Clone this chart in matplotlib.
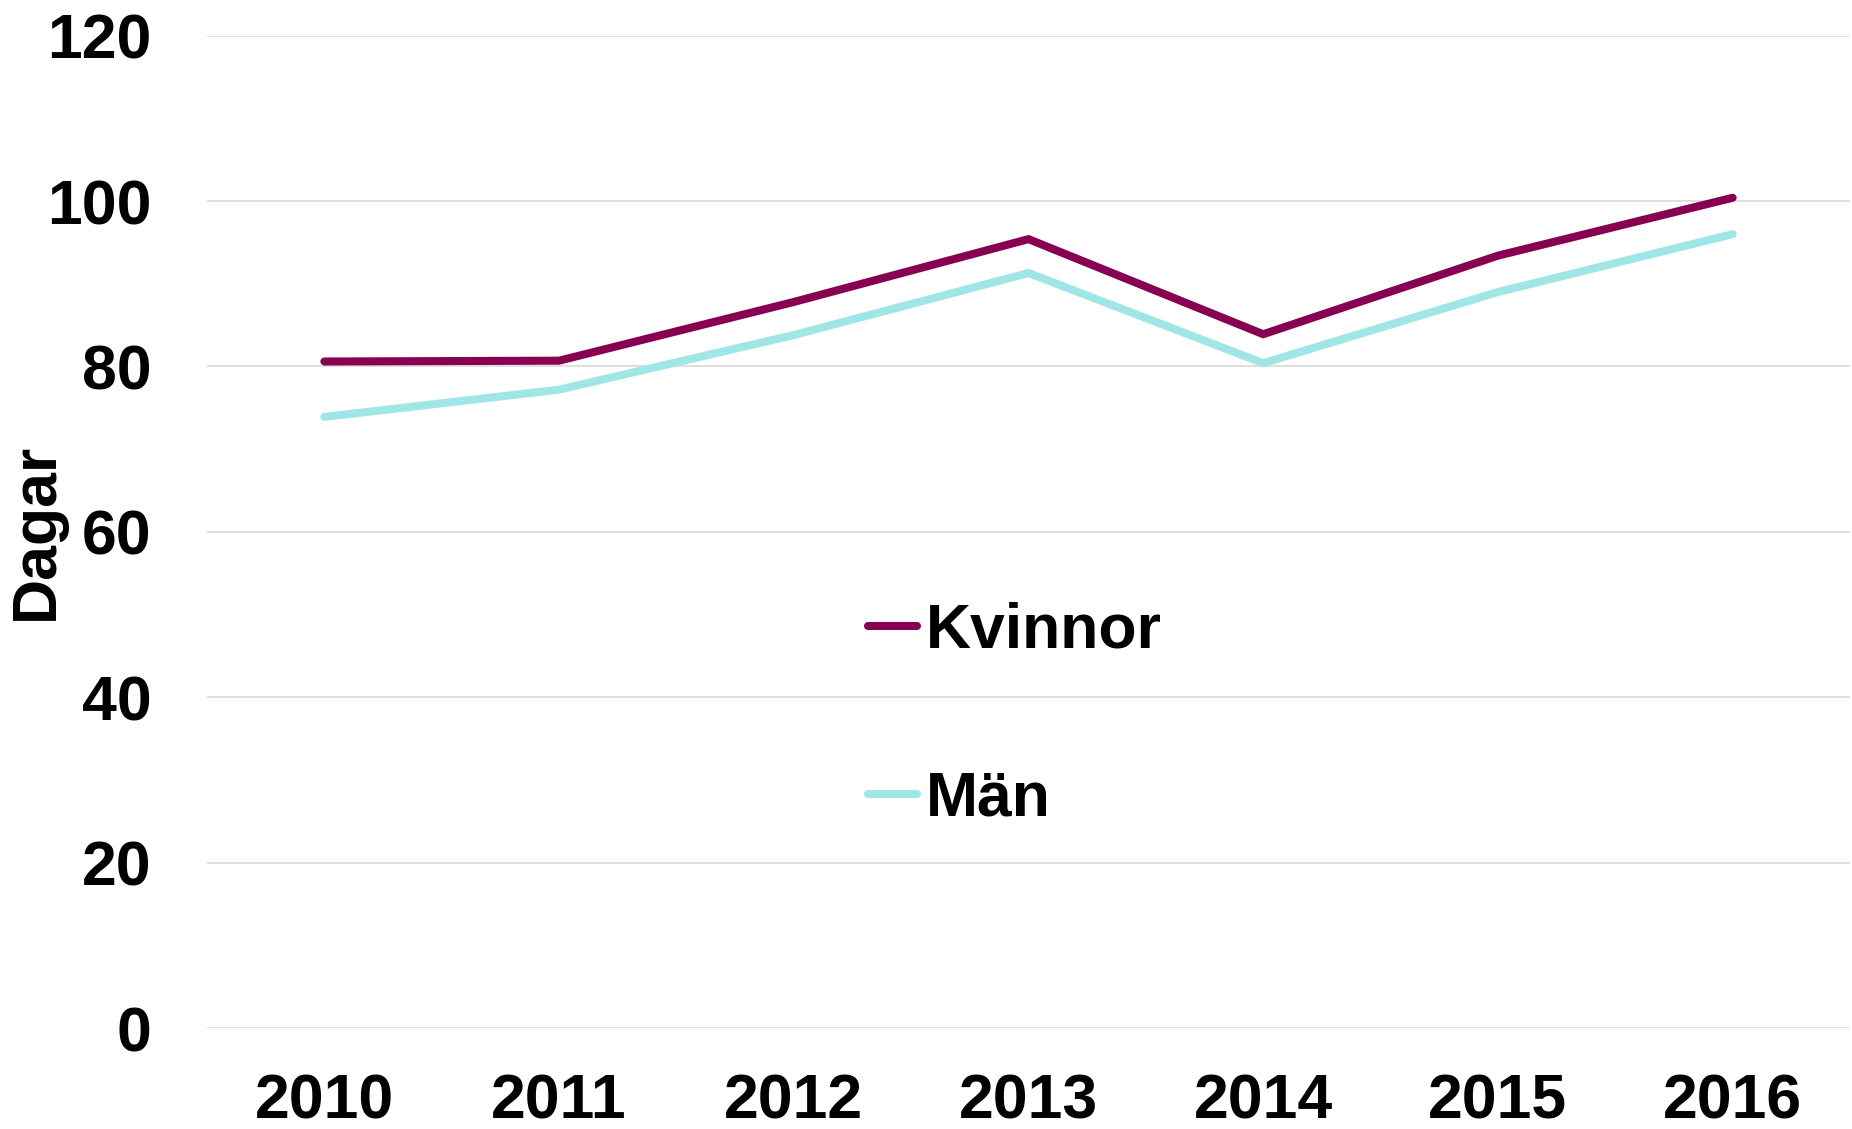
import matplotlib
matplotlib.use('Agg')
import matplotlib.pyplot as plt

# data
years = ['2010', '2011', '2012', '2013', '2014', '2015', '2016']
kvinnor = [80.6, 80.7, 87.8, 95.4, 83.9, 93.4, 100.4]
man = [73.9, 77.2, 83.8, 91.3, 80.4, 89.0, 96.0]
y_ticks = [0, 20, 40, 60, 80, 100, 120]

col_kvinnor = '#870052'
col_man = '#A1E6E7'
font_size = 45

plt.rcParams['font.family'] = ['Liberation Sans', 'DejaVu Sans']
plt.rcParams['font.weight'] = 'bold'

fig = plt.figure(figsize=(18.52, 11.29), dpi=100)
ax = fig.add_axes([207 / 1852, 1 - 1028 / 1129, 1643 / 1852, (1028 - 35.7) / 1129])

x = list(range(len(years)))
ax.plot(x, kvinnor, color=col_kvinnor, lw=5.8, solid_capstyle='round',
        solid_joinstyle='miter', label='Kvinnor', zorder=3)
ax.plot(x, man, color=col_man, lw=5.8, solid_capstyle='round',
        solid_joinstyle='miter', label='Män', zorder=3)

ax.set_xlim(-0.5, 6.5)
ax.set_ylim(0, 120)
ax.set_xticks(x)
ax.set_xticklabels(years)
ax.set_yticks(y_ticks)
ax.tick_params(axis='both', length=0, labelsize=font_size)
ax.tick_params(axis='y', pad=40)
ax.tick_params(axis='x', pad=32)
for lab in ax.get_xticklabels() + ax.get_yticklabels():
    lab.set_fontweight('bold')

ax.grid(axis='y', color='#D9D9D9', lw=1.2)
ax.set_axisbelow(True)
for s in ax.spines.values():
    s.set_visible(False)

ax.set_ylabel('Dagar', fontsize=font_size, fontweight='bold')
ax.yaxis.set_label_coords(-0.086, 0.5)

leg = ax.legend(loc='center left', bbox_to_anchor=(868 / 1852, 1 - 715 / 1129),
                bbox_transform=fig.transFigure, frameon=False, fontsize=font_size,
                handlelength=0.78, handletextpad=0.14, labelspacing=1.74,
                borderpad=0, borderaxespad=0)
for t in leg.get_texts():
    t.set_fontweight('bold')
for h in leg.get_lines():
    h.set_linewidth(5.8)
    h.set_solid_capstyle('round')

fig.savefig('out.png', dpi=100)
